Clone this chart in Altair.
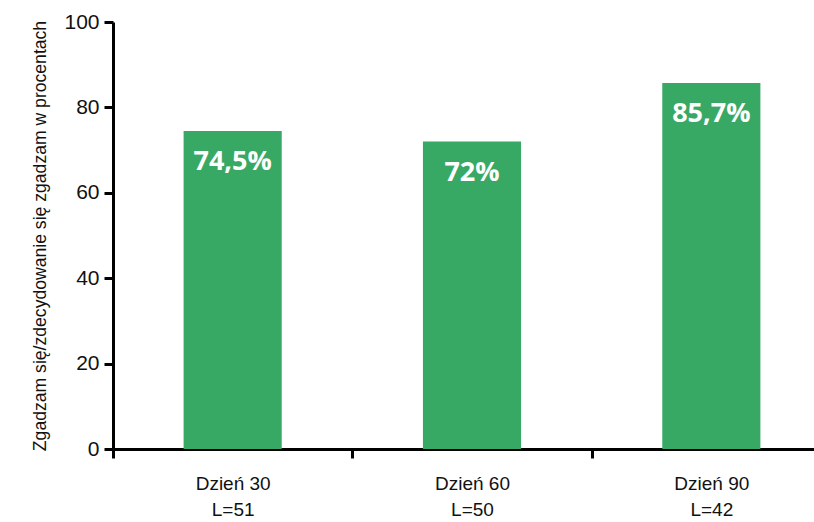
import altair as alt
import pandas as pd

days = ["Dzień 30", "Dzień 60", "Dzień 90"]
counts = ["L=51", "L=50", "L=42"]
values = [74.5, 72.0, 85.7]
value_labels = ["74,5%", "72%", "85,7%"]

df = pd.DataFrame({
    "cat": [f"{d}|{c}" for d, c in zip(days, counts)],
    "value": values,
    "txt": value_labels,
})

FONT = "Liberation Sans"

x = alt.X("cat:N", sort=None,
          scale=alt.Scale(range=[0, 718], paddingInner=0, paddingOuter=0),
          axis=alt.Axis(title=None, labelAngle=0, labelExpr="split(datum.label, '|')",
                        tickBand="extent", labelFont=FONT, labelFontSize=19,
                        labelColor="#111", labelPadding=16, labelLineHeight=26,
                        domainColor="black", domainWidth=3, tickColor="black",
                        tickWidth=3, tickSize=9))
y = alt.Y("value:Q", scale=alt.Scale(domain=[0, 100]),
          axis=alt.Axis(title="Zgadzam się/zdecydowanie się zgadzam w procentach",
                        values=[0, 20, 40, 60, 80, 100], grid=False,
                        labelFont=FONT, labelFontSize=21, labelColor="#111",
                        labelPadding=5, titleFont=FONT, titleFontSize=17.6,
                        titleFontWeight="normal", titleColor="#111", titlePadding=14,
                        domainColor="black", domainWidth=3, tickColor="black",
                        tickWidth=3, tickSize=9))

bars = alt.Chart(df).mark_bar(color="#38a865", width=alt.RelativeBandSize(0.41)).encode(x=x, y=y)
labels = alt.Chart(df).mark_text(color="white", fontSize=27, fontWeight="bold",
                                 font="Open Sans", baseline="middle", dy=31).encode(
    x=alt.X("cat:N", sort=None), y="value:Q", text="txt:N")

chart = alt.layer(bars, labels).properties(
    width=701, height=427,
    background="white",
    autosize=alt.AutoSizeParams(type="none"),
    padding={"left": 113, "top": 22, "right": 0, "bottom": 73},
).configure_view(stroke=None)

chart.save("out.html", embed_options={"renderer": "svg", "actions": False})
